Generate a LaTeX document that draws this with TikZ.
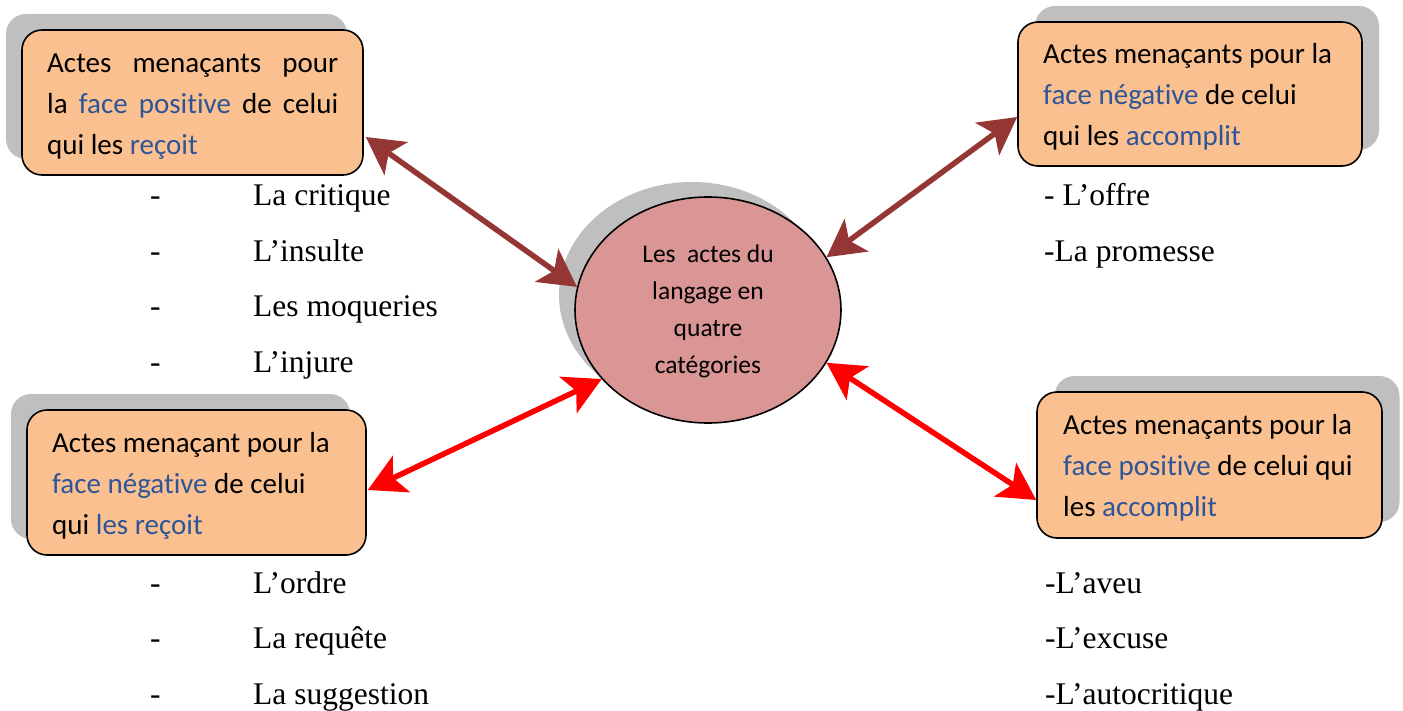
\documentclass[tikz,border=0pt]{standalone}
\usepackage{fontspec}
\setmainfont{Liberation Serif}
\newfontfamily\calfont[Ligatures=NoCommon]{Carlito}
\usetikzlibrary{arrows.meta,shapes.geometric,calc}
\definecolor{boxorange}{HTML}{FAC090}
\definecolor{ellred}{HTML}{D99694}
\definecolor{shadowgray}{HTML}{BFBFBF}
\definecolor{faceblue}{HTML}{2E5597}
\definecolor{arrbrown}{HTML}{943634}
\definecolor{arrred}{HTML}{FF0000}
\newcommand\fb[1]{\textcolor{faceblue}{#1}}
\tikzset{
  shadowcard/.style={fill=shadowgray, rounded corners=20pt, inner sep=0pt},
  card/.style={draw=black, line width=1.6pt, fill=boxorange, rounded corners=20pt, inner sep=0pt},
  cardline/.style={anchor=base west, inner sep=0pt, font=\calfont\fontsize{29}{35}\selectfont},
  listline/.style={anchor=base west, inner sep=0pt, font=\fontsize{31.5}{38}\selectfont},
  elline/.style={anchor=base, inner sep=0pt, font=\calfont\fontsize{25.5}{30}\selectfont},
  twoway/.style={line width=5.5pt, {Stealth[length=37pt,width=40pt,inset=9pt]}-{Stealth[length=37pt,width=40pt,inset=9pt]}},
}
\begin{document}
\begin{tikzpicture}[x=1pt,y=-1pt]
\useasboundingbox (0,0) rectangle (1403,711);

% shadows
\node[shadowcard, minimum width=341pt, minimum height=145pt] (tlsh) at (176.5,86.5) {};
\node[shadowcard, minimum width=344pt, minimum height=144pt] (trsh) at (1207,78) {};
\node[shadowcard, minimum width=339pt, minimum height=145pt] (blsh) at (180.5,466.5) {};
\node[shadowcard, minimum width=345pt, minimum height=146pt] (brsh) at (1227,449) {};
\node[ellipse, fill=shadowgray, minimum width=266pt, minimum height=226pt, inner sep=0pt] (elsh) at (692,295) {};

% cards
\node[card, minimum width=341pt, minimum height=145pt] (tl) at (192.5,102.5) {};
\node[card, minimum width=344pt, minimum height=144pt] (tr) at (1190,94) {};
\node[card, minimum width=339pt, minimum height=145pt] (bl) at (196.5,482.5) {};
\node[card, minimum width=345pt, minimum height=146pt] (br) at (1209.5,465) {};
\node[ellipse, draw=black, line width=1.6pt, fill=ellred, minimum width=266pt, minimum height=226pt, inner sep=0pt] (el) at (708,310) {};

% card texts
\node[cardline] (tl1) at (47,72.5) {\makebox[291pt][s]{Actes menaçants pour}};
\node[cardline] (tl2) at (47,113.5) {\makebox[291pt][s]{la \fb{face positive} de celui}};
\node[cardline] (tl3) at (47,154.5) {qui les \fb{reçoit}};

\node[cardline] (tr1) at (1043,64) {Actes menaçants pour la};
\node[cardline] (tr2) at (1043,105) {\fb{face négative} de celui};
\node[cardline] (tr3) at (1043,146) {qui les \fb{accomplit}};

\node[cardline] (bl1) at (52,452) {Actes menaçant pour la};
\node[cardline] (bl2) at (52,493) {\fb{face négative} de celui};
\node[cardline] (bl3) at (52,534) {qui \fb{les reçoit}};

\node[cardline] (br1) at (1063,434) {Actes menaçants pour la};
\node[cardline] (br2) at (1063,475) {\fb{face positive} de celui qui};
\node[cardline] (br3) at (1063,516) {les \fb{accomplit}};

% ellipse text
\node[elline] (el1) at (708,263) {Les\ \ actes du};
\node[elline] (el2) at (708,300) {langage en};
\node[elline] (el3) at (708,337) {quatre};
\node[elline] (el4) at (708,373) {catégories};

% lists
\node[listline] (ld1) at (150,206) {-};
\node[listline] (lt1) at (253,206) {La critique};
\node[listline] (ld2) at (150,262) {-};
\node[listline] (lt2) at (253,262) {L’insulte};
\node[listline] (ld3) at (150,317) {-};
\node[listline] (lt3) at (253,317) {Les moqueries};
\node[listline] (ld4) at (150,372) {-};
\node[listline] (lt4) at (253,372) {L’injure};

\node[listline] (ld5) at (150,593) {-};
\node[listline] (lt5) at (253,593) {L’ordre};
\node[listline] (ld6) at (150,648) {-};
\node[listline] (lt6) at (253,648) {La requête};
\node[listline] (ld7) at (150,704) {-};
\node[listline] (lt7) at (253,704) {La suggestion};

\node[listline] (rt1) at (1044,206) {- L’offre};
\node[listline] (rt2) at (1044,262) {-La promesse};
\node[listline] (rt3) at (1045,593) {-L’aveu};
\node[listline] (rt4) at (1045,648) {-L’excuse};
\node[listline] (rt5) at (1045,704) {-L’autocritique};

% connectors
\draw[twoway, arrbrown] ($(tl.east)+(2,34.5)$) -- (el.170.6);
\draw[twoway, arrbrown] ($(tr.west)+(0,23)$) -- (el.24.1);
\draw[twoway, arrred] ($(bl.east)+(1,7.5)$) -- (el.213);
\draw[twoway, arrred] (el.336.7) -- ($(br.west)+(0,35)$);
\end{tikzpicture}
\end{document}
